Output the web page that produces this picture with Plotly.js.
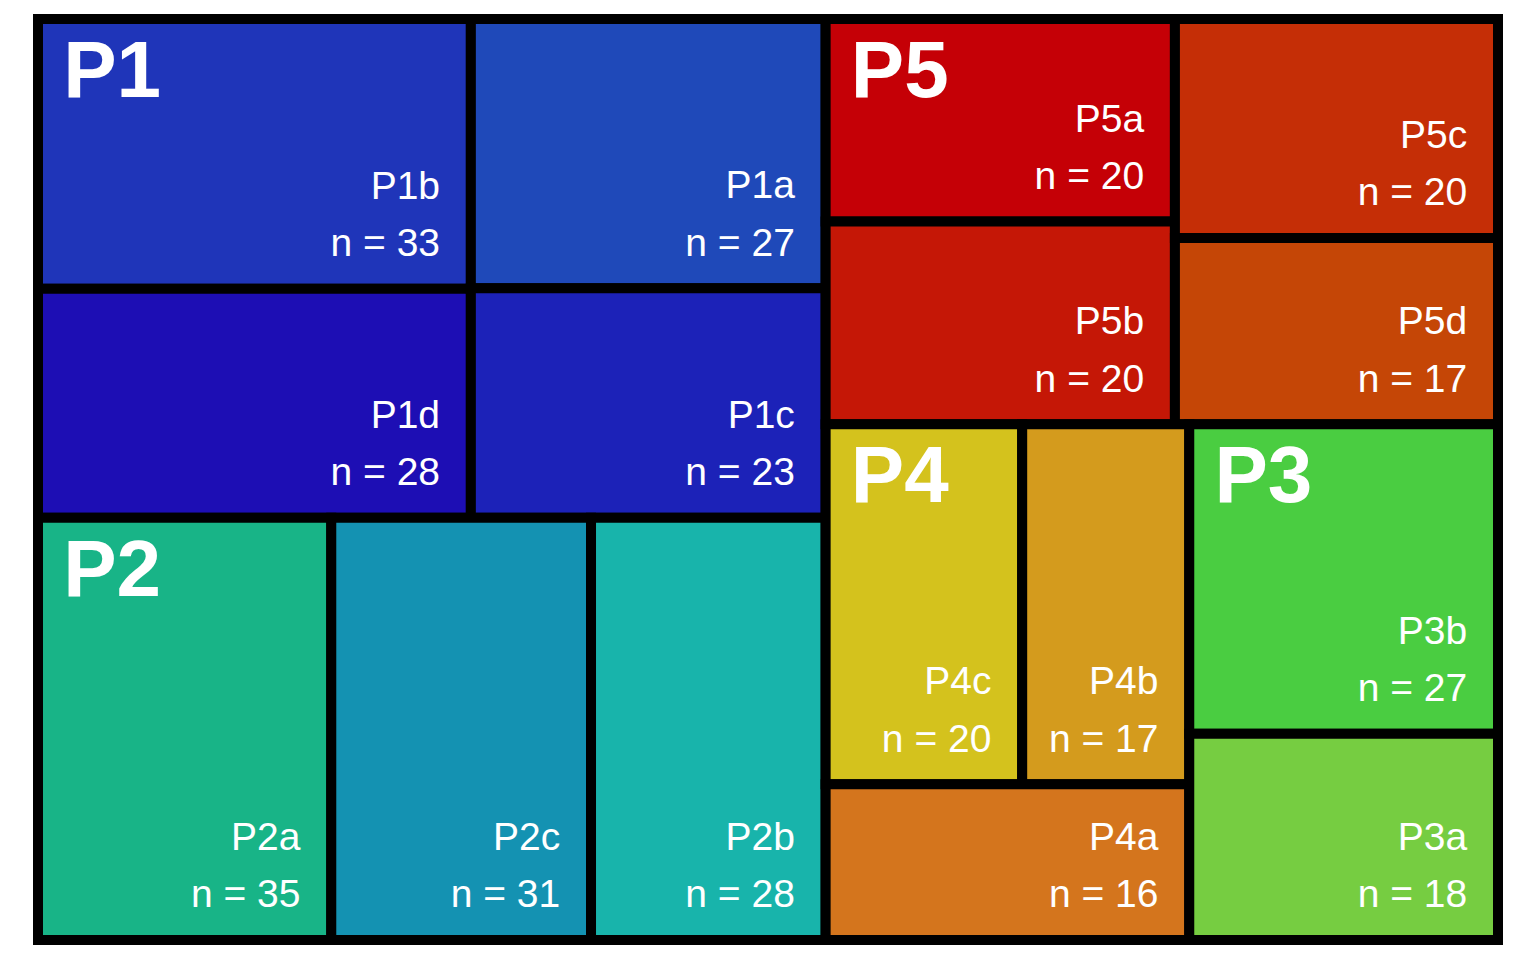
<!DOCTYPE html>
<html>
<head>
<meta charset="utf-8">
<script src="https://cdn.plot.ly/plotly-3.0.1.min.js"></script>
<style>html,body{margin:0;padding:0;background:#fff;}#chart{width:1536px;height:960px;}</style>
</head>
<body>
<div id="chart"></div>
<script>
// Groups (parents) and sub-groups (leaves)
const groups = ["P1", "P2", "P3", "P4", "P5"];
const subLabels = ["P1a", "P1b", "P1c", "P1d", "P2a", "P2b", "P2c", "P3a", "P3b", "P4a", "P4b", "P4c", "P5a", "P5b", "P5c", "P5d"];
const subParents = ["P1", "P1", "P1", "P1", "P2", "P2", "P2", "P3", "P3", "P4", "P4", "P4", "P5", "P5", "P5", "P5"];
const subValues = [27, 33, 23, 28, 35, 28, 31, 18, 27, 16, 17, 20, 20, 20, 20, 17];
const subColors = ["#1F49B9", "#1F35B9", "#1C22B8", "#1D0EB4",
                   "#18B487", "#18B4AB", "#1492B2",
                   "#76CD41", "#4ACD41",
                   "#D4751D", "#D49B1D", "#D4C21D",
                   "#C50006", "#C51706", "#C52E06", "#C54606"];

// group totals built from the leaf values
const groupValues = groups.map(g => subValues.reduce((s, v, i) => s + (subParents[i] === g ? v : 0), 0));

const ratio = 1.15;
const font = "Liberation Sans, Arial, Helvetica, sans-serif";

// leaf text: big spans inside a small base font so line spacing / insets can be tuned
const big = "<span style='font-size:39px'>";
const leafTemplate = big + "%{label}&nbsp;&nbsp;</span>&nbsp;<br>&nbsp;<br>" +
                     big + "n = %{value}&nbsp;&nbsp;</span>&nbsp;<br><span style='font-size:4px'>&nbsp;</span>";

const leaves = {
  type: "treemap",
  labels: groups.concat(subLabels),
  parents: groups.map(() => "").concat(subParents),
  values: groups.map(() => 0).concat(subValues),
  branchvalues: "remainder",
  sort: true,
  marker: {
    colors: groups.map(() => "#000000").concat(subColors),
    line: {color: "#000000", width: 10},
    pad: {t: 0, l: 0, r: 0, b: 0}
  },
  tiling: {packing: "squarify", squarifyratio: ratio, pad: 0},
  pathbar: {visible: false},
  texttemplate: groups.map(() => "").concat(subLabels.map(() => leafTemplate)),
  textposition: "bottom right",
  textfont: {family: font, size: 22, color: "#ffffff"},
  hoverinfo: "label+value",
  domain: {x: [0, 1], y: [0, 1]}
};

const groupLabels = {
  type: "treemap",
  labels: groups,
  parents: groups.map(() => ""),
  values: groupValues,
  sort: true,
  marker: {
    colors: groups.map(() => "rgba(0,0,0,0)"),
    line: {color: "rgba(0,0,0,0)", width: 0},
    pad: {t: 0, l: 0, r: 0, b: 0}
  },
  tiling: {packing: "squarify", squarifyratio: ratio, pad: 0},
  pathbar: {visible: false},
  texttemplate: "&nbsp;<br><span style='font-size:80px'>&nbsp;%{label}</span>",
  textposition: "top left",
  textfont: {family: font, size: 34, color: "#ffffff", weight: 700},
  hoverinfo: "skip",
  domain: {x: [0, 1], y: [0, 1]}
};

Plotly.newPlot("chart", [leaves, groupLabels], {
  width: 1536,
  height: 960,
  margin: {l: 38, r: 38, t: 19, b: 20},
  paper_bgcolor: "#ffffff",
  showlegend: false
}, {displayModeBar: false, staticPlot: true});
</script>
</body>
</html>
